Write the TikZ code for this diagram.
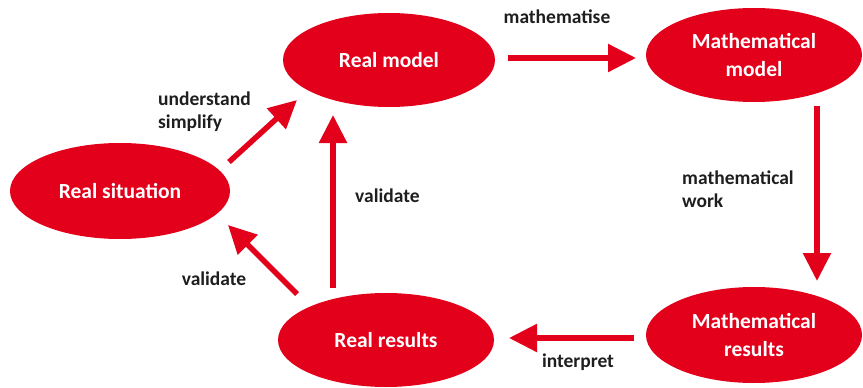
\documentclass[tikz,border=0pt]{standalone}
\usepackage{fontspec}
\setmainfont{Carlito}
\usetikzlibrary{shapes.geometric,arrows.meta,calc}
\definecolor{cred}{HTML}{E2001A}
\definecolor{ctext}{HTML}{1E1E1E}
\begin{document}
\begin{tikzpicture}[x=1pt,y=-1pt,
  oval/.style={ellipse,fill=cred,draw=none,inner sep=0pt,text=white,
    font=\bfseries\fontsize{21.5}{28}\selectfont,align=center},
  arr/.style={draw=cred,line width=5.5pt,-{Triangle[length=28pt,width=27pt]}},
  lbl/.style={text=ctext,font=\bfseries\fontsize{19.5}{23}\selectfont,align=left,inner sep=0pt}]
\useasboundingbox (0,0) rectangle (863,388);
\node[oval,minimum width=220pt,minimum height=96pt] (rs) at (120,191) {Real situation};
\node[oval,minimum width=212pt,minimum height=94pt] (rm) at (389,60) {Real model};
\node[oval,minimum width=216pt,minimum height=94pt] (mm) at (754,55) {Mathematical\\model};
\node[oval,minimum width=216pt,minimum height=96pt] (mr) at (754,335) {Mathematical\\results};
\node[oval,minimum width=216pt,minimum height=94pt] (rr) at (386,340) {Real results};
\draw[arr] ($(rm.center)+(119,-2)$) -- ($(mm.center)+(-118,3)$);
\draw[arr] ($(mm.center)+(63,51)$) -- ($(mr.center)+(63,-54)$);
\draw[arr] ($(mr.center)+(-120,3)$) -- ($(rr.center)+(123,-2)$);
\draw[arr] ($(rr.center)+(-53,-52)$) -- ($(rm.center)+(-56,55)$);
\draw[arr] ($(rr.center)+(-89,-46)$) -- ($(rs.center)+(108,34)$);
\draw[arr] ($(rs.center)+(109,-29)$) -- ($(rm.center)+(-92,40)$);
\node[lbl] (l1) at (557,17) {mathematise};
\node[lbl,anchor=west] (l2) at (158,112) {understand\\simplify};
\node[lbl,anchor=west] (l3) at (355,196) {validate};
\node[lbl] (l4) at (214,279) {validate};
\node[lbl,anchor=west] (l5) at (682,189) {mathematical\\work};
\node[lbl] (l6) at (578,362) {interpret};
\end{tikzpicture}
\end{document}
